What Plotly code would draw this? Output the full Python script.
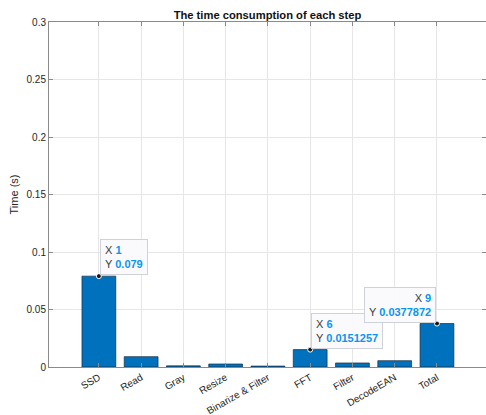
import plotly.graph_objects as go

# Step names and their measured durations (seconds)
steps = ["SSD", "Read", "Gray", "Resize", "Binarize & Filter", "FFT", "Filter", "DecodeEAN", "Total"]
times = [0.079, 0.0090, 0.0010, 0.0026, 0.0008, 0.0151257, 0.0035, 0.0055, 0.0377872]
positions = list(range(1, len(steps) + 1))

# Data tips shown on selected bars (index into the lists above)
tip_index = [0, 5, 8]
tip_side = ["left", "left", "right"]

FONT = "Liberation Sans, Arial, Helvetica, sans-serif"
AXIS = "#8a8a8a"
GRID = "#e6e6e6"
TIP_BLUE = "#0a95f0"

fig = go.Figure()

fig.add_trace(go.Bar(
    x=positions,
    y=times,
    width=0.8,
    marker=dict(color="#0072BD", line=dict(color="rgba(20,40,60,0.85)", width=0.8)),
    hoverinfo="skip",
))

fig.add_trace(go.Scatter(
    x=[positions[i] for i in tip_index],
    y=[times[i] for i in tip_index],
    mode="markers",
    marker=dict(color="#1a1a1a", size=5, line=dict(color="white", width=1)),
    hoverinfo="skip",
))

for i, side in zip(tip_index, tip_side):
    val = f"{times[i]:.7g}"
    text = (f"X <b><span style='color:{TIP_BLUE}'>{positions[i]}</span></b><br>"
            f"Y <b><span style='color:{TIP_BLUE}'>{val}</span></b>")
    fig.add_annotation(
        x=positions[i], y=times[i],
        text=text, showarrow=False,
        xanchor=side, yanchor="bottom",
        align=side,
        xshift=1 if side == "left" else -1, yshift=1,
        bgcolor="rgba(250,250,252,0.95)",
        bordercolor="#cfd2d8", borderwidth=1, borderpad=4,
        font=dict(family=FONT, size=11, color="#3a3a3a"),
    )

fig.update_layout(
    width=486, height=415,
    margin=dict(l=49, r=0, t=22, b=48),
    paper_bgcolor="white", plot_bgcolor="white",
    showlegend=False,
    font=dict(family=FONT, size=10, color="#262626"),
    title=dict(
        text="<b>The time consumption of each step</b>",
        x=0.5, xref="paper", xanchor="center",
        y=1, yref="paper", yanchor="bottom", pad=dict(b=3),
        font=dict(family=FONT, size=11.2, color="#111111"),
    ),
    bargap=0.2,
)

fig.update_xaxes(
    range=[-0.18, 10.16],
    tickmode="array", tickvals=positions, ticktext=steps,
    tickangle=-30,
    ticks="inside", ticklen=4, tickcolor=AXIS,
    showgrid=True, gridcolor=GRID, gridwidth=1,
    showline=True, linecolor=AXIS, linewidth=1, mirror="ticks",
    zeroline=False,
    tickfont=dict(family=FONT, size=10, color="#262626"),
)

fig.update_yaxes(
    range=[0, 0.3], dtick=0.05, tick0=0,
    ticks="inside", ticklen=4, tickcolor=AXIS,
    showgrid=True, gridcolor=GRID, gridwidth=1,
    showline=True, linecolor=AXIS, linewidth=1, mirror="ticks",
    zeroline=False,
    title=dict(text="Time (s)", font=dict(family=FONT, size=11, color="#262626"), standoff=5),
    tickfont=dict(family=FONT, size=10, color="#262626"),
)

fig.write_html("out.html")
